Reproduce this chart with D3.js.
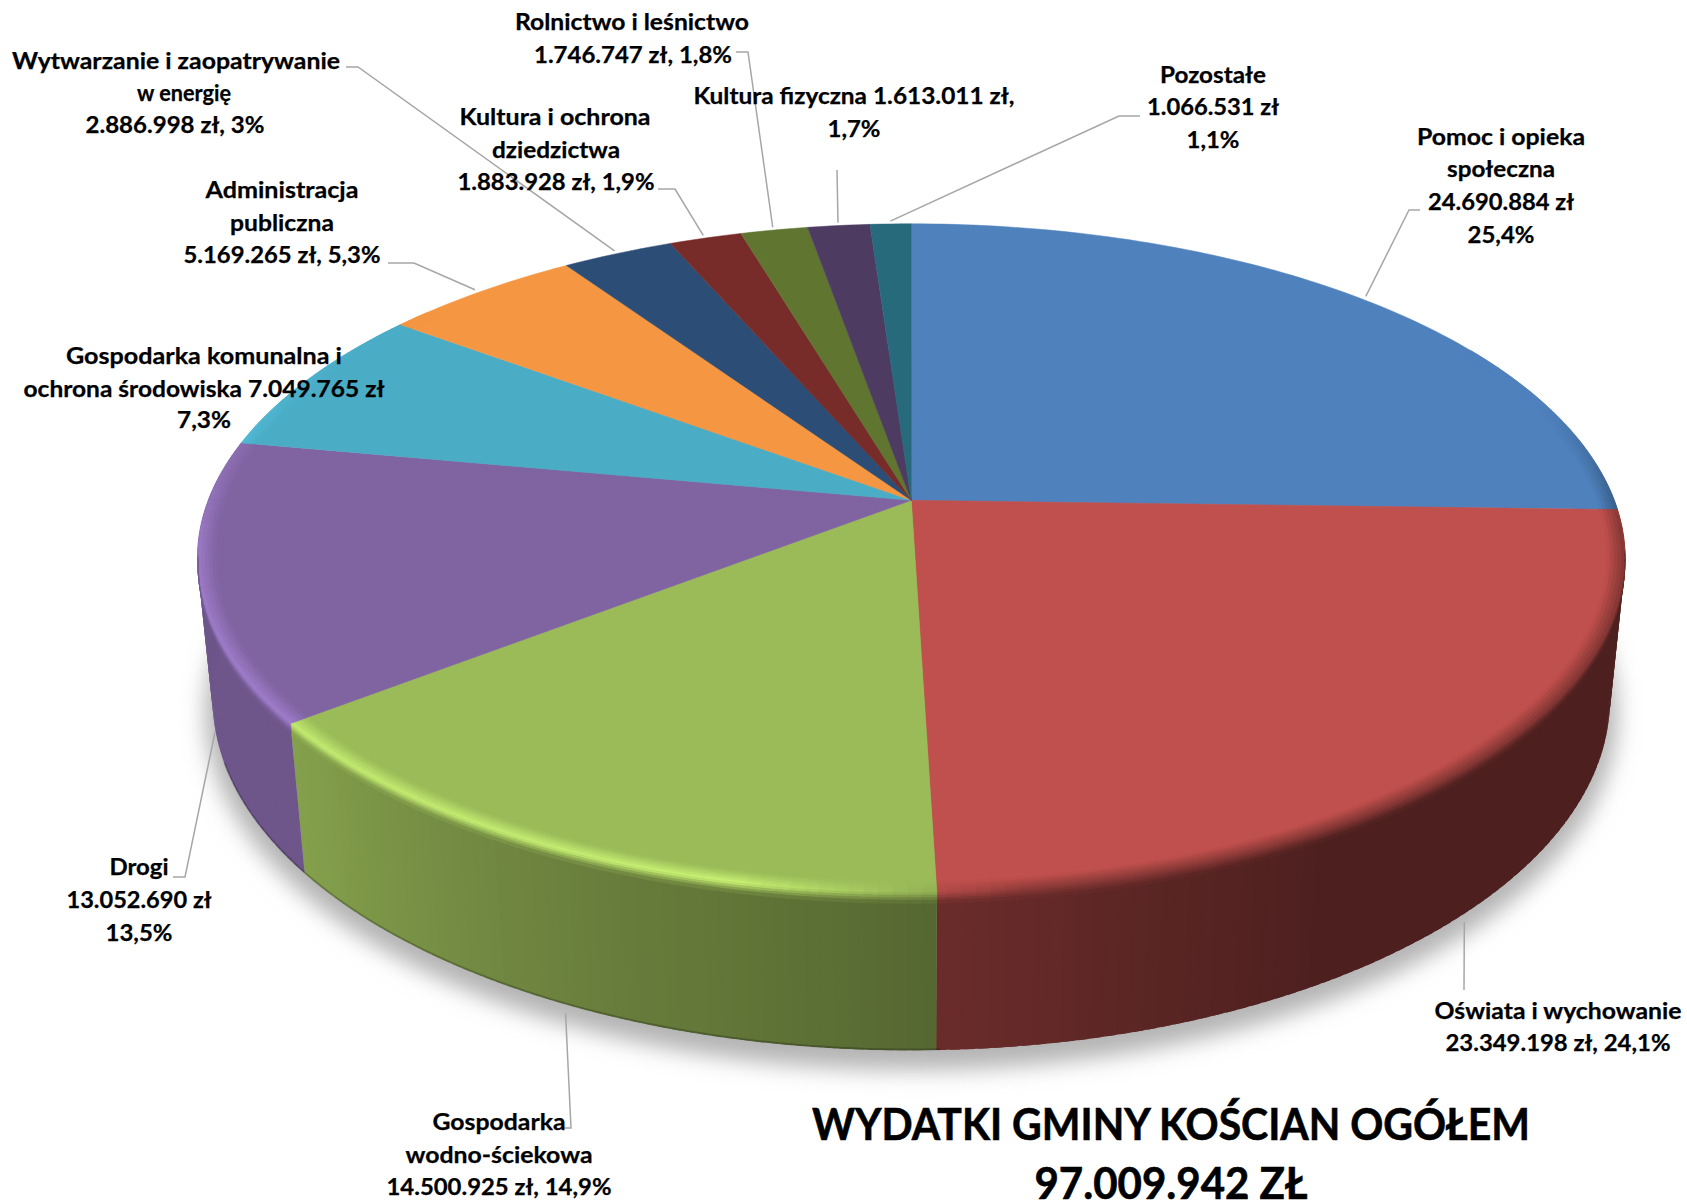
<!DOCTYPE html>
<html lang="pl">
<head>
<meta charset="utf-8">
<title>Wydatki gminy Kościan</title>
<script src="https://cdn.jsdelivr.net/npm/d3@7"></script>
<style>
    body { margin: 0; background: #fff; }
    svg { display: block; }
    text { font-family: Lato, "Open Sans", sans-serif; font-weight: 700; fill: #000; stroke: #000; stroke-width: 0.25; text-anchor: middle; }
    .label { font-size: 22px; }
    .title { font-size: 44px; stroke-width: 0.6; }
    .leader { fill: none; stroke: #a6a6a6; stroke-width: 1.5; }
</style>
</head>
<body>
<svg id="chart" width="1687" height="1202"></svg>
<script>
const categories = [
    'Pomoc i opieka społeczna', 'Oświata i wychowanie', 'Gospodarka wodno-ściekowa', 'Drogi',
    'Gospodarka komunalna i ochrona środowiska', 'Administracja publiczna',
    'Wytwarzanie i zaopatrywanie w energię', 'Kultura i ochrona dziedzictwa',
    'Rolnictwo i leśnictwo', 'Kultura fizyczna', 'Pozostałe'
];
const values = [24690884, 23349198, 14500925, 13052690, 7049765, 5169265, 2886998, 1883928, 1746747, 1613011, 1066531];
const colors = ['#4f81bd', '#c0504d', '#9bbb59', '#8064a2', '#4bacc6', '#f49642', '#2c4d75', '#772c2a', '#5f7530', '#4d3b62', '#276a7c'];

// label text, one entry per slice: [text, centre x, baseline y, width]
const labelLines = [
    [['Pomoc i opieka', 1501, 145, 168], ['społeczna', 1501, 177, 108], ['24.690.884 zł', 1501, 210, 146], ['25,4%', 1501, 243, 67]],
    [['Oświata i wychowanie', 1558, 1019, 247], ['23.349.198 zł, 24,1%', 1558, 1051, 225]],
    [['Gospodarka', 499, 1130, 133], ['wodno-ściekowa', 499, 1163, 187], ['14.500.925 zł, 14,9%', 499, 1195, 225]],
    [['Drogi', 139, 875, 59], ['13.052.690 zł', 139, 908, 145], ['13,5%', 139, 941, 67]],
    [['Gospodarka komunalna i', 204, 364, 276], ['ochrona środowiska 7.049.765 zł', 204, 397, 361], ['7,3%', 204, 428, 54]],
    [['Administracja', 282, 198, 153], ['publiczna', 282, 231, 104], ['5.169.265 zł, 5,3%', 282, 263, 197]],
    [['Wytwarzanie i zaopatrywanie', 176, 69, 328], ['w energię', 184, 101, 94], ['2.886.998 zł, 3%', 175, 133, 179]],
    [['Kultura i ochrona', 555, 125, 191], ['dziedzictwa', 556, 158, 128], ['1.883.928 zł, 1,9%', 556, 190, 197]],
    [['Rolnictwo i leśnictwo', 632, 30, 234], ['1.746.747 zł, 1,8%', 633, 63, 198]],
    [['Kultura fizyczna 1.613.011 zł,', 854, 104, 321], ['1,7%', 854, 137, 53]],
    [['Pozostałe', 1213, 83, 106], ['1.066.531 zł', 1213, 115, 132], ['1,1%', 1213, 148, 53]]
];
const titleLines = [['WYDATKI GMINY KOŚCIAN OGÓŁEM', 1171, 1140, 718], ['97.009.942 ZŁ', 1171, 1199, 273]];

// elbow points of the leader lines, the slice end is worked out from the pie
const leaderElbows = [
    [[1409, 210], [1420, 210]],
    [[1464, 990]],
    [[571, 1128], [563, 1128]],
    [[185, 877], [173, 877]],
    null,
    [[414, 263], [388, 263]],
    [[358, 67], [346, 67]],
    [[675, 189], [658, 189]],
    [[748, 52], [736, 52]],
    [[837, 170]],
    [[1119, 116], [1140, 116]]
];

const svg = d3.select('#chart');
const deg = d => d * Math.PI / 180;

// perspective of the pie: angle, radius (1 = edge) and depth (0 top, 1 bottom) to screen
const cx = 911.3, cy = 500.3, sx = 703, sy = 324.5, sz = 141.6, persp = -0.1736, perspZ = 0.021;
function project(angle, r, z) {
    const X = r * Math.sin(angle), Y = -r * Math.cos(angle), w = 1 + persp * Y + perspZ * z;
    return [cx + sx * X / w, cy + (sy * Y + sz * z) / w];
}

const pie = d3.pie().sort(null)(values);
const line = d3.line();
const step = deg(1);
const samples = (a0, a1) => d3.range(a0, a1, step).concat(a1);

// how lit the side wall is, by angle
const wallLight = d3.scaleLinear()
    .domain([100, 150, 178, 210, 232, 280].map(deg))
    .range([0.40, 0.40, 0.55, 0.72, 0.86, 0.85])
    .clamp(true);
// bright edge on the left, dark edge on the right
const edgeGlow = d3.scaleLinear()
    .domain([172, 192, 260, 300].map(deg))
    .range([0, 1, 0.8, 0.3])
    .clamp(true);
const edgeFade = d3.scaleLinear()
    .domain([72, 95, 265, 310].map(deg))
    .range([0, 1, 1, 0])
    .clamp(true);

const shade = (color, f) => {
    const c = d3.rgb(color);
    return d3.rgb(c.r * f, c.g * f, c.b * f).clamp().formatRgb();
};

// soft shadow under the pie
const defs = svg.append('defs');
defs.append('filter').attr('id', 'soft')
    .attr('x', '-10%').attr('y', '-10%').attr('width', '120%').attr('height', '120%')
    .append('feGaussianBlur').attr('stdDeviation', 11);

svg.append('path')
    .attr('d', line(samples(0, 2 * Math.PI).map(a => project(a, 1.012, 1.09))) + 'Z')
    .attr('fill', '#b4b4b4')
    .attr('filter', 'url(#soft)');

// side wall, thin strips so the light can change along it
// each strip runs a bit under the next one, so no seams show
const strips = pie.flatMap(d => {
    const a0 = Math.max(d.startAngle, deg(85)), a1 = Math.min(d.endAngle, deg(275));
    if (a0 >= a1) return [];
    return d3.pairs(samples(a0, a1)).map(([p, q]) => {
        const qq = Math.min(q + step * 0.7, a1);
        return {
            pts: [project(p, 1, 0), project(qq, 1, 0), project(qq, 1, 1), project(p, 1, 1)],
            fill: shade(colors[d.index], wallLight((p + q) / 2))
        };
    });
});
svg.append('g').selectAll('path')
    .data(strips)
    .join('path')
    .attr('d', d => line(d.pts) + 'Z')
    .attr('fill', d => d.fill);

// darker line where the wall meets the ground
svg.append('path')
    .attr('d', line(samples(deg(178), deg(250)).map(a => project(a, 1, 0.995))))
    .attr('fill', 'none')
    .attr('stroke', '#000')
    .attr('stroke-opacity', 0.22)
    .attr('stroke-width', 2);

// top of the pie
svg.append('g').selectAll('path')
    .data(pie)
    .join('path')
    .attr('d', d => line([[cx, cy], ...samples(d.startAngle, d.endAngle).map(a => project(a, 1, 0))]) + 'Z')
    .attr('fill', d => colors[d.index])
    .attr('stroke', d => colors[d.index])
    .attr('stroke-width', 0.5);

// rounded edge between top and wall
const rimProfile = [[0.975, 0], [0.98, 0], [0.985, 0], [0.99, 0], [0.995, 0], [1, 0], [1, 0.015], [1, 0.03], [1, 0.045], [1, 0.065]];
const rim = pie.flatMap(d => {
    const a0 = Math.max(d.startAngle, deg(60)), a1 = Math.min(d.endAngle, deg(310));
    if (a0 >= a1) return [];
    const top = colors[d.index];
    return d3.pairs(samples(a0, a1)).flatMap(([p, q]) => {
        const mid = (p + q) / 2;
        const facing = mid > deg(99) && mid < deg(261);
        const wall = shade(top, wallLight(mid));
        const dark = d3.interpolateRgb(top, wall)(0.55);
        const light = shade(top, 1.3);
        const peak = d3.interpolateRgb(top, d3.interpolateRgb(dark, light)(edgeGlow(mid)))(edgeFade(mid));
        return d3.pairs(rimProfile).map(([u, v], i) => {
            const t = (i + 0.5) / (rimProfile.length - 1);
            if (!facing && v[1] > 0) return null;
            const fill = t < 0.55
                ? d3.interpolateRgb(top, peak)(t / 0.55)
                : d3.interpolateRgb(peak, wall)((t - 0.55) / 0.45);
            return {
                pts: [project(p, u[0], u[1]), project(q, u[0], u[1]), project(q, v[0], v[1]), project(p, v[0], v[1])],
                fill
            };
        }).filter(Boolean);
    });
});
svg.append('g').selectAll('path')
    .data(rim)
    .join('path')
    .attr('d', d => line(d.pts) + 'Z')
    .attr('fill', d => d.fill)
    .attr('stroke', d => d.fill)
    .attr('stroke-width', 0.6);

// leader lines
svg.append('g').selectAll('path')
    .data(pie.filter(d => leaderElbows[d.index]))
    .join('path')
    .attr('class', 'leader')
    .attr('d', d => {
        const a = (d.startAngle + d.endAngle) / 2;
        const facing = a > deg(99) && a < deg(261);
        return line([facing ? project(a, 1, 1.06) : project(a, 1.012, 0), ...leaderElbows[d.index]]);
    });

// labels
svg.append('g').selectAll('text')
    .data(labelLines.flat())
    .join('text')
    .attr('class', 'label')
    .attr('x', d => d[1])
    .attr('y', d => d[2])
    .attr('textLength', d => d[3])
    .attr('lengthAdjust', 'spacingAndGlyphs')
    .text(d => d[0]);

svg.append('g').selectAll('text')
    .data(titleLines)
    .join('text')
    .attr('class', 'title')
    .attr('x', d => d[1])
    .attr('y', d => d[2])
    .attr('textLength', d => d[3])
    .attr('lengthAdjust', 'spacingAndGlyphs')
    .text(d => d[0]);
</script>
</body>
</html>
